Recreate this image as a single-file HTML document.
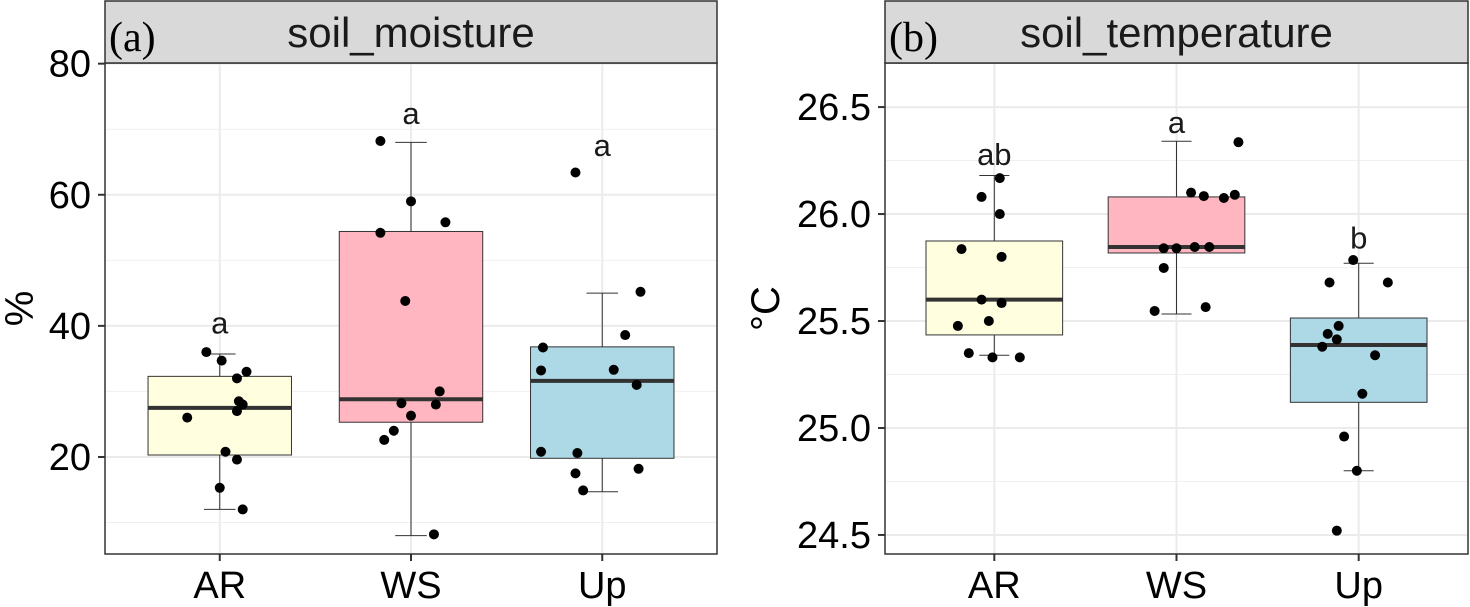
<!DOCTYPE html>
<html><head><meta charset="utf-8"><style>
body{margin:0;background:#fff;}
svg{display:block;font-family:"Liberation Sans",sans-serif;}
</style></head><body>
<svg id="c" width="1470" height="607"></svg>
<script>
const categories=["AR","WS","Up"];
const colors=["#FFFFE0","#FFB6C1","#ADD8E6"];
// panel a : soil moisture (%)
const moistStats=[[12,20.3,27.5,32.3,35.7],[8,25.3,28.8,54.4,68],[14.7,19.8,31.6,36.8,45]];
const moistPts=[[36,34.7,33,32,26,28.5,28,27,20.8,19.6,15.3,12],[68.2,59,55.8,54.2,43.8,30,28,28.2,26.3,24,22.6,8.2],[63.4,45.2,38.6,36.7,33.2,33.3,31,20.8,20.6,17.5,18.2,14.9]];
const moistJit=[[-0.07,0.01,0.14,0.09,-0.17,0.1,0.12,0.09,0.03,0.09,0,0.12],[-0.16,0,0.18,-0.16,-0.03,0.15,0.13,-0.05,0,-0.09,-0.14,0.12],[-0.14,0.2,0.12,-0.31,-0.32,0.06,0.18,-0.32,-0.13,-0.14,0.19,-0.1]];
const moistLetters=["a","a","a"];
const moistLetterVals=[40.5,72.5,67.6];
const moistTicks=[20,40,60,80];
// panel b : soil temperature (°C)
const tempStats=[[25.34,25.435,25.6,25.874,26.18],[25.533,25.818,25.846,26.08,26.34],[24.8,25.12,25.388,25.514,25.77]];
const tempPts=[[26.168,26.08,26.0,25.836,25.8,25.6,25.584,25.5,25.477,25.35,25.33,25.33],[26.336,26.1,26.084,26.09,26.075,25.84,25.84,25.846,25.846,25.748,25.547,25.565],[25.785,25.68,25.68,25.477,25.44,25.414,25.38,25.34,25.16,24.96,24.8,24.52]];
const tempJit=[[0.03,-0.07,0.03,-0.18,0.04,-0.07,0.04,-0.03,-0.2,-0.14,-0.01,0.14],[0.34,0.08,0.15,0.32,0.26,-0.07,0,0.1,0.18,-0.07,-0.12,0.16],[-0.03,-0.16,0.16,-0.11,-0.17,-0.12,-0.2,0.09,0.02,-0.08,-0.01,-0.12]];
const tempLetters=["ab","a","b"];
const tempLetterVals=[26.28,26.43,25.89];
const tempTicks=[24.5,25.0,25.5,26.0,26.5];

const svg=document.getElementById('c');
const NS='http://www.w3.org/2000/svg';
function mk(tag,attrs,parent){const e=document.createElementNS(NS,tag);for(const k in attrs)e.setAttribute(k,attrs[k]);(parent||svg).appendChild(e);return e;}

function panel(o){
  const {x0,x1,y0,y1,vmin,vmax,stats,pts,jit,letters,letterVals,ticks,minor,fmt,title,tag,ylab,ylabX,name}=o;
  const g=mk('g',{});
  
  
  const Y=v=>y1-(v-vmin)/(vmax-vmin)*(y1-y0);
  const step=(x1-x0)/3.2;
  const X=i=>x0+step*(i+0.6);
  const bw=step*0.75;
  mk('rect',{x:x0,y:y0,width:x1-x0,height:y1-y0,fill:'#fff'},g);
  minor.forEach(v=>{const l=mk('line',{x1:x0,x2:x1,y1:Y(v),y2:Y(v),stroke:'#f0f0f0','stroke-width':1},g);
    });
  ticks.forEach(v=>{const l=mk('line',{x1:x0,x2:x1,y1:Y(v),y2:Y(v),stroke:'#ebebeb','stroke-width':2},g);
    });
  categories.forEach((c,i)=>{mk('line',{x1:X(i),x2:X(i),y1:y0,y2:y1,stroke:'#ebebeb','stroke-width':2},g);});
  categories.forEach((c,i)=>{
    const s=stats[i],cx=X(i);
    const w=mk('line',{x1:cx,x2:cx,y1:Y(s[0]),y2:Y(s[4]),stroke:'#333','stroke-width':1},g);
    
    [s[0],s[4]].forEach(v=>mk('line',{x1:cx-bw*0.11,x2:cx+bw*0.11,y1:Y(v),y2:Y(v),stroke:'#333','stroke-width':1},g));
    const b=mk('rect',{x:cx-bw/2,y:Y(s[3]),width:bw,height:Y(s[1])-Y(s[3]),fill:colors[i],stroke:'#333','stroke-width':1},g);
    
    const m=mk('line',{x1:cx-bw/2,x2:cx+bw/2,y1:Y(s[2]),y2:Y(s[2]),stroke:'#333','stroke-width':4},g);
    
    pts[i].forEach((v,j)=>{const p=mk('circle',{cx:cx+jit[i][j]*step,cy:Y(v),r:5,fill:'#000'},g);
      });
    const t=mk('text',{x:cx,y:Y(letterVals[i])+11,'font-size':31,'text-anchor':'middle',fill:'#1a1a1a'},g);
    t.textContent=letters[i];
    mk('line',{x1:cx,x2:cx,y1:y1,y2:y1+7,stroke:'#333','stroke-width':2},g);
    const xl=mk('text',{x:cx,y:y1+44,'font-size':38,'text-anchor':'middle',fill:'#000'},g);
    xl.textContent=c;
  });
  ticks.forEach(v=>{mk('line',{x1:x0-7,x2:x0,y1:Y(v),y2:Y(v),stroke:'#333','stroke-width':2},g);
    const t=mk('text',{x:x0-14,y:Y(v)+13,'font-size':38,'text-anchor':'end',fill:'#000'},g);
    t.textContent=fmt(v);});
  mk('rect',{x:x0,y:y0,width:x1-x0,height:y1-y0,fill:'none',stroke:'#333','stroke-width':1.5},g);
  const st=mk('rect',{x:x0,y:1,width:x1-x0,height:y0-1,fill:'#d9d9d9',stroke:'#333','stroke-width':1.5},g);
  
  const tt=mk('text',{x:(x0+x1)/2,y:47,'font-size':42,'text-anchor':'middle',fill:'#1a1a1a'},g);
  tt.textContent=title;
  const tg=mk('text',{x:x0+4,y:51,'font-size':42,'font-family':'Liberation Serif, serif',fill:'#000'},g);
  tg.textContent=tag;
  const yl=mk('text',{x:ylabX,y:(y0+y1)/2,'font-size':40,'text-anchor':'middle',fill:'#000',transform:`rotate(-90 ${ylabX} ${(y0+y1)/2})`},g);
  yl.textContent=ylab;
}
panel({x0:105,x1:717,y0:63,y1:554,vmin:5.2,vmax:80.1,stats:moistStats,pts:moistPts,jit:moistJit,letters:moistLetters,letterVals:moistLetterVals,ticks:moistTicks,minor:[10,30,50,70],fmt:v=>String(v),title:'soil_moisture',tag:'(a)',ylab:'%',ylabX:33,name:'soil-moisture'});
panel({x0:885,x1:1468,y0:63,y1:554,vmin:24.411,vmax:26.706,stats:tempStats,pts:tempPts,jit:tempJit,letters:tempLetters,letterVals:tempLetterVals,ticks:tempTicks,minor:[24.75,25.25,25.75,26.25],fmt:v=>v.toFixed(1),title:'soil_temperature',tag:'(b)',ylab:'°C',ylabX:779,name:'soil-temperature'});
</script>
</body></html>
